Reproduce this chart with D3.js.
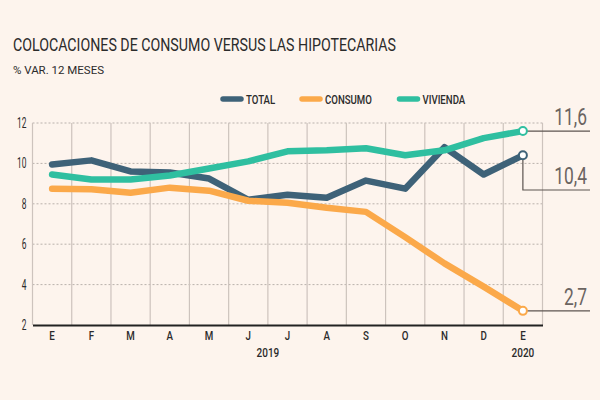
<!DOCTYPE html>
<html>
<head>
<meta charset="utf-8">
<script src="https://cdn.jsdelivr.net/npm/d3@7"></script>
<style>
  body { margin: 0; background: #fdf4ed; }
  svg text { font-family: "Roboto", "Noto Sans", sans-serif; }
</style>
</head>
<body>
<div class="chart"></div>
<script>
// chart data
var months = ["E", "F", "M", "A", "M", "J", "J", "A", "S", "O", "N", "D", "E"];
var years = [{ label: "2019", from: 0, to: 11 }, { label: "2020", from: 12, to: 12 }];
var total = [9.95, 10.15, 9.6, 9.55, 9.25, 8.2, 8.45, 8.3, 9.15, 8.75, 10.8, 9.45, 10.4];
var consumo = [8.75, 8.72, 8.55, 8.8, 8.65, 8.15, 8.05, 7.8, 7.6, 6.35, 5.05, 3.9, 2.7];
var vivienda = [9.45, 9.2, 9.2, 9.4, 9.75, 10.1, 10.6, 10.65, 10.75, 10.4, 10.65, 11.25, 11.6];
var yTicks = [2, 4, 6, 8, 10, 12];
var lastLabels = ["10,4", "2,7", "11,6"];

var series = [
  { name: "TOTAL", values: total, color: "#3e6278" },
  { name: "CONSUMO", values: consumo, color: "#fba94a" },
  { name: "VIVIENDA", values: vivienda, color: "#2fbfa0" }
];

var svgWidth = 600;
var svgHeight = 400;

var margin = { top: 123, right: 57.5, bottom: 75, left: 32.5 };

// squeeze text horizontally, the original uses a condensed face
function condense(sel, k) {
  sel.each(function () {
    var w = this.getComputedTextLength();
    d3.select(this)
      .attr("textLength", w * k)
      .attr("lengthAdjust", "spacingAndGlyphs");
  });
}

var svg = d3.select(".chart")
  .append("svg")
  .attr("width", svgWidth)
  .attr("height", svgHeight);

svg.append("rect")
  .attr("width", svgWidth)
  .attr("height", svgHeight)
  .attr("fill", "#fdf4ed");

var x = d3.scaleBand()
  .domain(d3.range(months.length))
  .range([margin.left, svgWidth - margin.right]);

var y = d3.scaleLinear()
  .domain([2, 12])
  .range([svgHeight - margin.bottom, margin.top]);

var cx = i => x(i) + x.bandwidth() / 2;

// titles
svg.append("text")
  .attr("x", 13)
  .attr("y", 51)
  .attr("font-size", 19)
  .attr("fill", "#2b2b2b")
  .attr("textLength", 383)
  .attr("lengthAdjust", "spacingAndGlyphs")
  .text("COLOCACIONES DE CONSUMO VERSUS LAS HIPOTECARIAS");

svg.append("text")
  .attr("x", 13)
  .attr("y", 74)
  .attr("font-size", 11.5)
  .attr("fill", "#2b2b2b")
  .attr("textLength", 91)
  .attr("lengthAdjust", "spacingAndGlyphs")
  .text("% VAR. 12 MESES");

// legend
var legendX = [221, 300, 397.5];
var legend = svg.selectAll(".legend")
  .data(series)
  .enter()
  .append("g")
  .attr("transform", (d, i) => `translate(${legendX[i]}, 99)`);

legend.append("line")
  .attr("x1", 2).attr("x2", 20)
  .attr("stroke", d => d.color)
  .attr("stroke-width", 5.5)
  .attr("stroke-linecap", "round");

legend.append("text")
  .attr("x", 25)
  .attr("y", 4.5)
  .attr("font-size", 13)
  .attr("font-weight", 500)
  .attr("fill", "#2b2b2b")
  .text(d => d.name)
  .call(condense, 0.74);

// horizontal dotted grid
svg.append("g")
  .selectAll("line")
  .data(yTicks.filter(t => t > 2))
  .enter()
  .append("line")
  .attr("x1", margin.left)
  .attr("x2", svgWidth - margin.right)
  .attr("y1", d => y(d))
  .attr("y2", d => y(d))
  .attr("stroke", "#b9b1ac")
  .attr("stroke-width", 1)
  .attr("stroke-dasharray", "2,2");

// vertical grid at band edges
svg.append("g")
  .selectAll("line")
  .data(d3.range(months.length + 1))
  .enter()
  .append("line")
  .attr("x1", d => margin.left + d * x.step())
  .attr("x2", d => margin.left + d * x.step())
  .attr("y1", y(12))
  .attr("y2", y(2))
  .attr("stroke", "#cdc3bd")
  .attr("stroke-width", 1.2);

// y axis labels
var yAxis = svg.append("g")
  .attr("transform", `translate(${margin.left}, 0)`)
  .call(d3.axisLeft(y).tickValues(yTicks).tickSize(0).tickPadding(6));
yAxis.select(".domain").remove();
yAxis.selectAll("text")
  .attr("font-size", 14)
  .attr("fill", "#2b2b2b")
  .call(condense, 0.6);

// x axis
var xAxis = svg.append("g")
  .attr("transform", `translate(0, ${y(2)})`)
  .call(d3.axisBottom(x).tickFormat(i => months[i]).tickSize(0).tickPadding(6));
xAxis.select(".domain")
  .attr("stroke", "#222")
  .attr("stroke-width", 2);
xAxis.selectAll("text")
  .attr("font-size", 12.5)
  .attr("font-weight", 500)
  .attr("fill", "#2b2b2b")
  .call(condense, 0.78);

svg.selectAll(".year")
  .data(years)
  .enter()
  .append("text")
  .attr("x", d => (x(d.from) + x(d.to) + x.bandwidth()) / 2)
  .attr("y", y(2) + 32)
  .attr("text-anchor", "middle")
  .attr("font-size", 12.5)
  .attr("font-weight", 500)
  .attr("fill", "#2b2b2b")
  .text(d => d.label)
  .call(condense, 0.8);

// lines
var line = d3.line()
  .x((d, i) => cx(i))
  .y(d => y(d));

svg.selectAll(".series")
  .data(series)
  .enter()
  .append("path")
  .attr("d", d => line(d.values))
  .attr("fill", "none")
  .attr("stroke", d => d.color)
  .attr("stroke-width", 6.5)
  .attr("stroke-linejoin", "round")
  .attr("stroke-linecap", "round");

// callouts for the last value
var last = months.length - 1;
var calloutEnd = 590;
var calloutY = [190, null, null]; // total drops down to its own row

series.forEach(function (s, k) {
  var px = cx(last);
  var py = y(s.values[last]);
  var ly = calloutY[k] || py;
  svg.append("path")
    .attr("d", `M${px},${py} L${px},${ly} L${calloutEnd},${ly}`)
    .attr("fill", "none")
    .attr("stroke", "#5c5450")
    .attr("stroke-width", 1.2);
  svg.append("text")
    .attr("x", calloutEnd - 3)
    .attr("y", ly - 6)
    .attr("text-anchor", "end")
    .attr("font-size", 23.5)
    .attr("fill", "#6b6461")
    .text(lastLabels[k])
    .call(condense, 0.74);
});

series.forEach(function (s) {
  svg.append("circle")
    .attr("cx", cx(last))
    .attr("cy", y(s.values[last]))
    .attr("r", 4)
    .attr("fill", "#fff")
    .attr("stroke", s.color)
    .attr("stroke-width", 2);
});
</script>
</body>
</html>
